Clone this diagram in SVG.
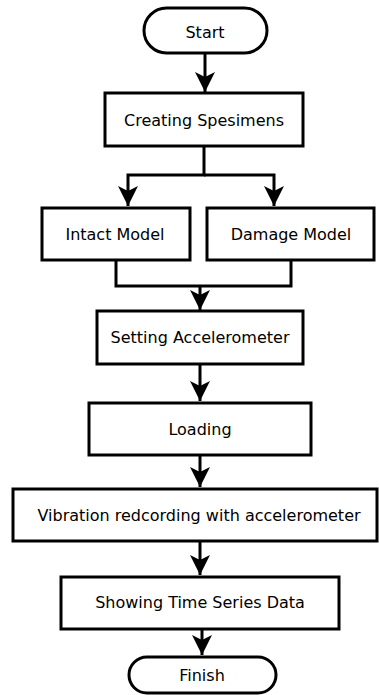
<svg xmlns="http://www.w3.org/2000/svg" width="379" height="695" viewBox="0 0 379 695">
<style>
.box{fill:#fff;stroke:#000;stroke-width:3}
.lbl{font-family:"DejaVu Sans",Verdana,sans-serif;font-size:16px;fill:#000;text-anchor:middle}
.ln{fill:none;stroke:#000;stroke-width:3}
</style>
<defs>
<marker id="ah" viewBox="0 0 20 20" refX="20" refY="10" markerWidth="20" markerHeight="20" markerUnits="userSpaceOnUse" orient="auto">
<path d="M0,0 L20,10 L0,20 L5,10 z" fill="#000"/>
</marker>
</defs>
<rect width="379" height="695" fill="#fff"/>
<g id="connectors">
<path class="ln" d="M205,53 V92" marker-end="url(#ah)"/>
<path class="ln" d="M204,146 V175 H128 V206" marker-end="url(#ah)"/>
<path class="ln" d="M204,175 H274 V206" marker-end="url(#ah)"/>
<path class="ln" d="M116,260 V286 H291 V260"/>
<path class="ln" d="M200,286 V310" marker-end="url(#ah)"/>
<path class="ln" d="M200,364 V401" marker-end="url(#ah)"/>
<path class="ln" d="M200,455 V487" marker-end="url(#ah)"/>
<path class="ln" d="M200,541 V575" marker-end="url(#ah)"/>
<path class="ln" d="M202,629 V655" marker-end="url(#ah)"/>
</g>
<g id="start"><rect class="box" x="144" y="8" width="123" height="45" rx="22.5"/><text class="lbl" x="205" y="38">Start</text></g>
<g id="creating"><rect class="box" x="105" y="93" width="198" height="53"/><text class="lbl" x="204" y="126">Creating Spesimens</text></g>
<g id="intact"><rect class="box" x="42" y="208" width="148" height="52"/><text class="lbl" x="115" y="240">Intact Model</text></g>
<g id="damage"><rect class="box" x="207" y="208" width="167" height="52"/><text class="lbl" x="291" y="240">Damage Model</text></g>
<g id="setting"><rect class="box" x="97" y="311" width="206" height="53"/><text class="lbl" x="200" y="343">Setting Accelerometer</text></g>
<g id="loading"><rect class="box" x="89" y="403" width="222" height="52"/><text class="lbl" x="200" y="435">Loading</text></g>
<g id="vibration"><rect class="box" x="13" y="489" width="364" height="52"/><text class="lbl" x="199" y="521">Vibration redcording with accelerometer</text></g>
<g id="showing"><rect class="box" x="61" y="577" width="278" height="52"/><text class="lbl" x="200" y="608">Showing Time Series Data</text></g>
<g id="finish"><rect class="box" x="129" y="657" width="147" height="36" rx="18"/><text class="lbl" x="202" y="681">Finish</text></g>
</svg>
